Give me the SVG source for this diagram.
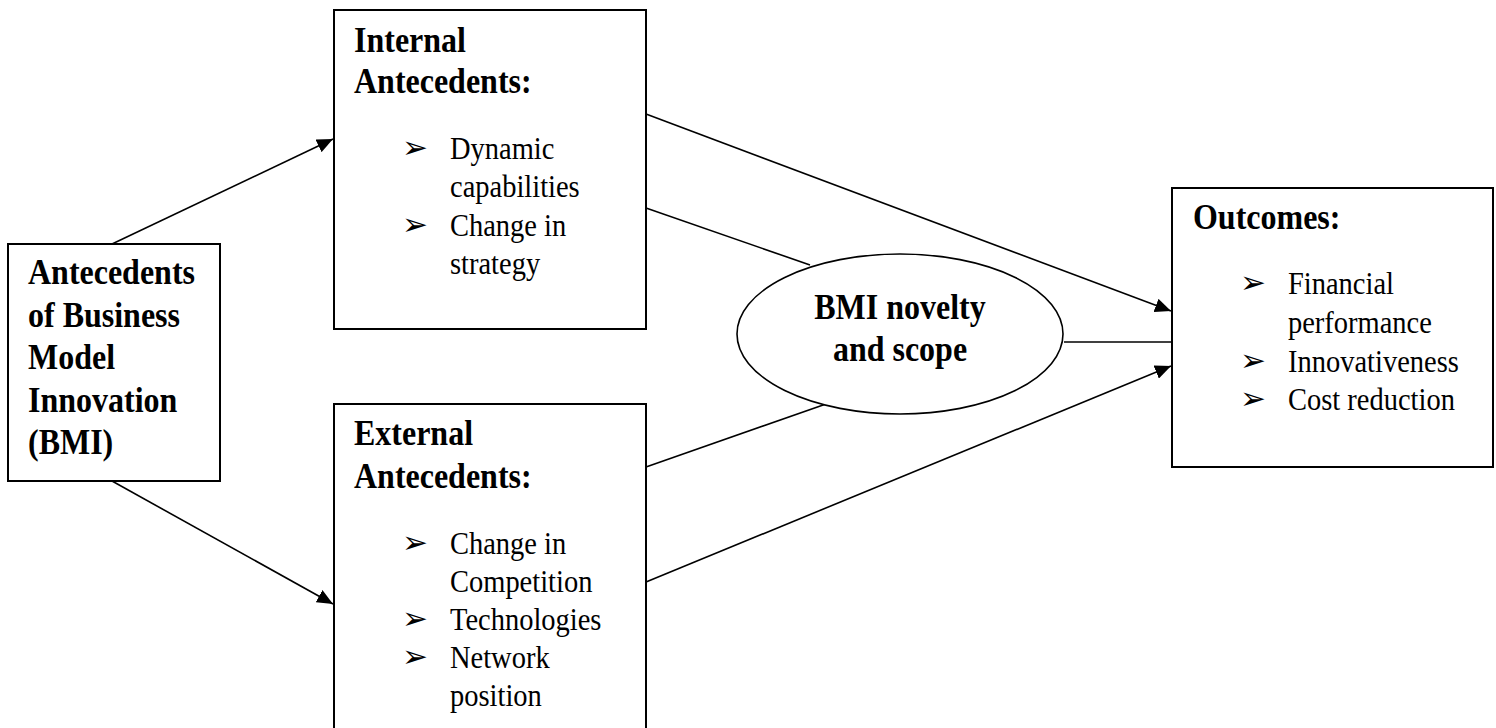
<svg xmlns="http://www.w3.org/2000/svg" width="1496" height="728" viewBox="0 0 1496 728">
<style>
.box{fill:#fff;stroke:#000;stroke-width:2}
.h{font-family:"Liberation Serif","Times New Roman",serif;font-weight:bold;font-size:32px;fill:#000}
.t{font-family:"Liberation Serif","Times New Roman",serif;font-size:28.5px;fill:#000}
.h,.t{transform-box:fill-box;transform-origin:50% 100%;transform:translateY(2px) scaleY(1.1)}
.b{font-family:"DejaVu Sans",sans-serif;font-size:31px;fill:#000}
.c{stroke:#000;stroke-width:1.6;fill:none}
</style>
<defs>
<marker id="ah" markerUnits="userSpaceOnUse" markerWidth="18" markerHeight="14" refX="16" refY="7" orient="auto">
<path d="M0,0 L16,7 L0,14 z" fill="#000"/>
</marker>
</defs>
<rect width="1496" height="728" fill="#fff"/>
<g id="connectors">
<line class="c" x1="112" y1="244" x2="333" y2="139" marker-end="url(#ah)"/>
<line class="c" x1="112" y1="481" x2="333" y2="604" marker-end="url(#ah)"/>
<line class="c" x1="646" y1="114" x2="1171" y2="311" marker-end="url(#ah)"/>
<line class="c" x1="646" y1="208" x2="810" y2="265"/>
<line class="c" x1="646" y1="467" x2="826" y2="404"/>
<line class="c" x1="646" y1="582" x2="1171" y2="366" marker-end="url(#ah)"/>
<line class="c" x1="1064" y1="342" x2="1172" y2="342"/>
</g>
<g id="bmi">
<rect class="box" x="8" y="244" width="212" height="237"/>
<text class="h" x="28" y="283">Antecedents</text>
<text class="h" x="28" y="326">of Business</text>
<text class="h" x="28" y="368">Model</text>
<text class="h" x="28" y="411">Innovation</text>
<text class="h" x="28" y="453">(BMI)</text>
</g>
<g id="internal">
<rect class="box" x="334" y="10" width="312" height="319"/>
<text class="h" x="354" y="51">Internal</text>
<text class="h" x="354" y="92">Antecedents:</text>
<text class="b" x="402" y="158">➢</text>
<text class="t" x="450" y="158">Dynamic</text>
<text class="t" x="450" y="196">capabilities</text>
<text class="b" x="402" y="235">➢</text>
<text class="t" x="450" y="235">Change in</text>
<text class="t" x="450" y="273">strategy</text>
</g>
<g id="external">
<rect class="box" x="334" y="404" width="312" height="340"/>
<text class="h" x="354" y="444">External</text>
<text class="h" x="354" y="487">Antecedents:</text>
<text class="b" x="402" y="553">➢</text>
<text class="t" x="450" y="553">Change in</text>
<text class="t" x="450" y="591">Competition</text>
<text class="b" x="402" y="629">➢</text>
<text class="t" x="450" y="629">Technologies</text>
<text class="b" x="402" y="667">➢</text>
<text class="t" x="450" y="667">Network</text>
<text class="t" x="450" y="705">position</text>
</g>
<g id="novelty">
<ellipse cx="900" cy="334" rx="163" ry="80" fill="#fff" stroke="#000" stroke-width="1.6"/>
<text class="h" x="900" y="318" text-anchor="middle">BMI novelty</text>
<text class="h" x="900" y="360" text-anchor="middle">and scope</text>
</g>
<g id="outcomes">
<rect class="box" x="1172" y="188" width="321" height="279"/>
<text class="h" x="1193" y="228">Outcomes:</text>
<text class="b" x="1240" y="293">➢</text>
<text class="t" x="1288" y="293">Financial</text>
<text class="t" x="1288" y="332">performance</text>
<text class="b" x="1240" y="371">➢</text>
<text class="t" x="1288" y="371">Innovativeness</text>
<text class="b" x="1240" y="409">➢</text>
<text class="t" x="1288" y="409">Cost reduction</text>
</g>
</svg>
